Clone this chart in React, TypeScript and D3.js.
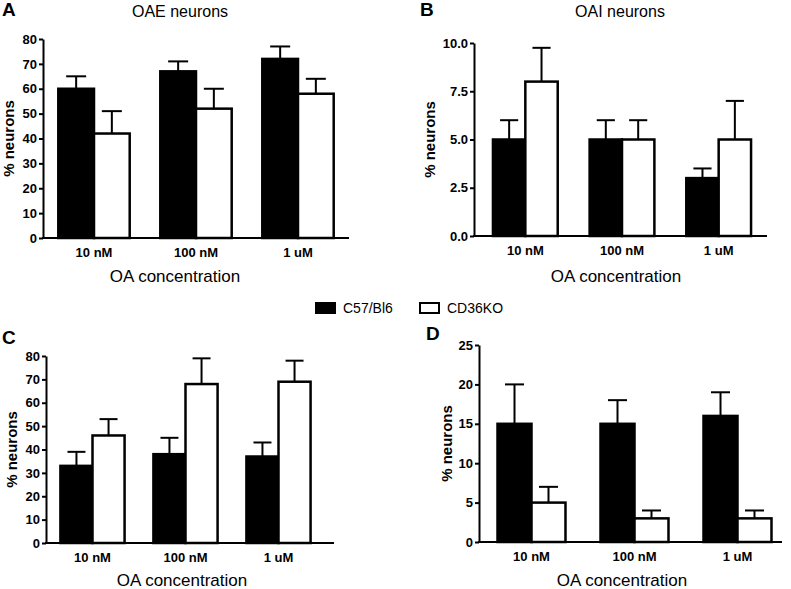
import React, { useEffect, useRef } from 'react';
import * as d3 from 'd3';

// categories and series
const concentrations = ['10 nM', '100 nM', '1 uM'];
const seriesNames = ['C57/Bl6', 'CD36KO'];

// panel A - OAE neurons
const oaeWT = [60, 67, 72];
const oaeWTErr = [5, 4, 5];
const oaeKO = [42, 52, 58];
const oaeKOErr = [9, 8, 6];

// panel B - OAI neurons
const oaiWT = [5, 5, 3];
const oaiWTErr = [1, 1, 0.5];
const oaiKO = [8, 5, 5];
const oaiKOErr = [1.75, 1, 2];

// panel C
const cWT = [33, 38, 37];
const cWTErr = [6, 7, 6];
const cKO = [46, 68, 69];
const cKOErr = [7, 11, 9];

// panel D
const dWT = [15, 15, 16];
const dWTErr = [5, 3, 3];
const dKO = [5, 3, 3];
const dKOErr = [2, 1, 1];

const ticks80 = [0, 10, 20, 30, 40, 50, 60, 70, 80];
const ticks10 = [0, 2.5, 5, 7.5, 10];
const ticks25 = [0, 5, 10, 15, 20, 25];

const FONT = '"Liberation Sans", Arial, Helvetica, sans-serif';

const panels = [
  {
    letter: 'A', lx: 2, ly: 16, title: 'OAE neurons', tx: 180,
    wt: oaeWT, wtErr: oaeWTErr, ko: oaeKO, koErr: oaeKOErr,
    ymax: 80, ticks: ticks80, fmt: d3.format('d'),
    x0: 43, bandEnd: 349, axisEnd: 349, pad: 0.3,
    yTop: 39, yBot: 238, ylabX: 14, xTitleX: 175, xTitleY: 282,
  },
  {
    letter: 'B', lx: 420, ly: 16, title: 'OAI neurons', tx: 620,
    wt: oaiWT, wtErr: oaiWTErr, ko: oaiKO, koErr: oaiKOErr,
    ymax: 10, ticks: ticks10, fmt: d3.format('.1f'),
    x0: 474, bandStart: 477, bandEnd: 767, axisEnd: 767, pad: 0.33,
    yTop: 43, yBot: 236, ylabX: 435, xTitleX: 616, xTitleY: 282,
  },
  {
    letter: 'C', lx: 2, ly: 344, title: '', tx: 0,
    wt: cWT, wtErr: cWTErr, ko: cKO, koErr: cKOErr,
    ymax: 80, ticks: ticks80, fmt: d3.format('d'),
    x0: 46, bandStart: 46, bandEnd: 325, axisEnd: 334, pad: 0.31,
    yTop: 356, yBot: 543, ylabX: 17, xTitleX: 182, xTitleY: 586,
  },
  {
    letter: 'D', lx: 426, ly: 340, title: '', tx: 0,
    wt: dWT, wtErr: dWTErr, ko: dKO, koErr: dKOErr,
    ymax: 25, ticks: ticks25, fmt: d3.format('d'),
    x0: 479, bandStart: 480, bandEnd: 789, axisEnd: 782, pad: 0.34,
    yTop: 345, yBot: 542, ylabX: 452, xTitleX: 622, xTitleY: 586,
  },
];

const App = () => {
  const ref = useRef<SVGSVGElement | null>(null);

  useEffect(() => {
    const svg = d3.select(ref.current);
    svg.selectAll('*').remove();
    svg.style('font-family', FONT);

    panels.forEach((p: any) => {
      const g = svg.append('g');

      const x = d3.scaleBand()
        .domain(concentrations)
        .range([p.bandStart ?? p.x0, p.bandEnd])
        .paddingInner(p.pad)
        .paddingOuter(p.pad / 2);

      const sub = d3.scaleBand()
        .domain(seriesNames)
        .range([0, x.bandwidth()]);

      const y = d3.scaleLinear()
        .domain([0, p.ymax])
        .range([p.yBot, p.yTop]);

      // letter + title
      g.append('text')
        .attr('x', p.lx).attr('y', p.ly)
        .style('font-size', '19px').style('font-weight', 'bold')
        .text(p.letter);
      if (p.title) {
        g.append('text')
          .attr('x', p.tx).attr('y', 17)
          .attr('text-anchor', 'middle')
          .style('font-size', '16px')
          .text(p.title);
      }

      // y axis
      const ya = g.append('g')
        .attr('transform', `translate(${p.x0},0)`)
        .call(d3.axisLeft(y).tickValues(p.ticks).tickFormat(p.fmt).tickSize(4).tickPadding(2).tickSizeOuter(0));
      ya.select('.domain').attr('stroke-width', 2);
      ya.selectAll('.tick line').attr('stroke-width', 2);
      ya.selectAll('.tick text')
        .style('font-size', '13px').style('font-weight', 'bold')
        .style('font-family', FONT).attr('fill', '#000');

      // x axis line
      g.append('line')
        .attr('x1', p.x0 - 1).attr('x2', p.axisEnd)
        .attr('y1', p.yBot).attr('y2', p.yBot)
        .attr('stroke', '#000').attr('stroke-width', 2);

      const xa = g.append('g')
        .attr('transform', `translate(0,${p.yBot})`)
        .call(d3.axisBottom(x).tickSize(0).tickPadding(10));
      xa.select('.domain').remove();
      xa.selectAll('.tick text')
        .style('font-size', '13px').style('font-weight', 'bold')
        .style('font-family', FONT).attr('fill', '#000');

      // bars
      const rows = concentrations.flatMap((c, i) => [
        { c, s: seriesNames[0], v: p.wt[i], e: p.wtErr[i], fill: '#000' },
        { c, s: seriesNames[1], v: p.ko[i], e: p.koErr[i], fill: '#fff' },
      ]);

      // error bars first so the bar outline sits on top
      const eb = g.selectAll('g.err').data(rows).enter().append('g').attr('class', 'err');
      eb.append('line')
        .attr('x1', d => x(d.c)! + sub(d.s)! + sub.bandwidth() / 2)
        .attr('x2', d => x(d.c)! + sub(d.s)! + sub.bandwidth() / 2)
        .attr('y1', d => y(d.v))
        .attr('y2', d => y(d.v + d.e))
        .attr('stroke', '#000').attr('stroke-width', 2);
      eb.append('line')
        .attr('x1', d => x(d.c)! + sub(d.s)! + sub.bandwidth() * 0.22)
        .attr('x2', d => x(d.c)! + sub(d.s)! + sub.bandwidth() * 0.78)
        .attr('y1', d => y(d.v + d.e))
        .attr('y2', d => y(d.v + d.e))
        .attr('stroke', '#000').attr('stroke-width', 2);

      g.selectAll('rect.bar').data(rows).enter().append('rect')
        .attr('class', 'bar')
        .attr('x', d => x(d.c)! + sub(d.s)!)
        .attr('y', d => y(d.v))
        .attr('width', sub.bandwidth())
        .attr('height', d => p.yBot - y(d.v))
        .attr('fill', d => d.fill)
        .attr('stroke', '#000').attr('stroke-width', 2.5);

      // axis titles
      g.append('text')
        .attr('transform', `translate(${p.ylabX},${(p.yTop + p.yBot) / 2}) rotate(-90)`)
        .attr('text-anchor', 'middle')
        .style('font-size', '15px').style('font-weight', 'bold')
        .text('% neurons');
      g.append('text')
        .attr('x', p.xTitleX).attr('y', p.xTitleY)
        .attr('text-anchor', 'middle')
        .style('font-size', '17px')
        .text('OA concentration');
    });

    // legend
    const legX = [315, 419];
    const lg = svg.append('g');
    seriesNames.forEach((s, i) => {
      lg.append('rect')
        .attr('x', legX[i] + 1).attr('y', 303)
        .attr('width', 19).attr('height', 10)
        .attr('fill', i === 0 ? '#000' : '#fff')
        .attr('stroke', '#000').attr('stroke-width', 2);
      lg.append('text')
        .attr('x', legX[i] + 28).attr('y', 313)
        .style('font-size', '14px')
        .text(s);
    });
  }, []);

  return (
    <svg ref={ref} width={791} height={589}
      style={{ position: 'absolute', left: 0, top: 0, background: '#fff' }} />
  );
};

export default App;
